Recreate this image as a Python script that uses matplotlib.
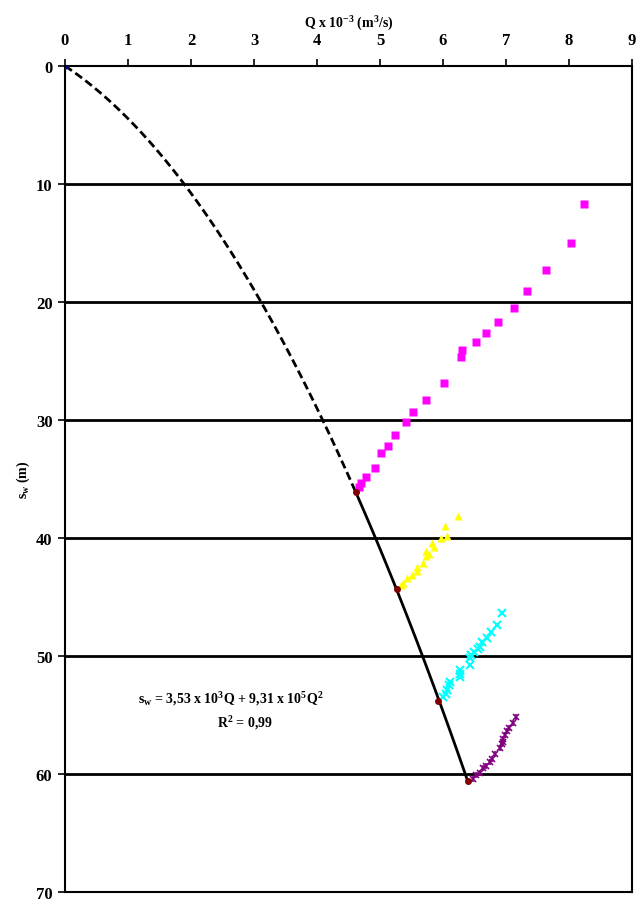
import numpy as np
import matplotlib
matplotlib.use("Agg")
import matplotlib.pyplot as plt

plt.rcParams['font.family'] = ['Liberation Serif', 'DejaVu Serif']
plt.rcParams['font.weight'] = 'bold'
plt.rcParams['mathtext.fontset'] = 'custom'
plt.rcParams['mathtext.rm'] = 'Liberation Serif:bold'
plt.rcParams['mathtext.it'] = 'Liberation Serif:bold'
plt.rcParams['mathtext.bf'] = 'Liberation Serif:bold'

# step test data, Q in 10^-3 m3/s, s in m
step1_q = [8.23, 8.03, 7.63, 7.33, 7.13, 6.88, 6.68, 6.52, 6.30, 6.29, 6.02, 5.73,
           5.52, 5.42, 5.23, 5.12, 5.02, 4.92, 4.77, 4.70, 4.67]
step1_s = [11.7, 15.0, 17.3, 19.1, 20.5, 21.7, 22.6, 23.4, 24.1, 24.7, 26.9, 28.3,
           29.3, 30.2, 31.3, 32.2, 32.8, 34.1, 34.8, 35.3, 35.7]

step2_q = [6.23, 6.03, 6.07, 5.97, 5.83, 5.86, 5.73, 5.77, 5.73, 5.69, 5.59, 5.59,
           5.51, 5.43, 5.37, 5.34]
step2_s = [38.1, 39.0, 39.8, 40.0, 40.4, 40.8, 41.1, 41.4, 41.5, 42.1, 42.5, 42.8,
           43.1, 43.4, 43.8, 44.0]

step3_q = [6.94, 6.86, 6.76, 6.70, 6.62, 6.59, 6.56, 6.49, 6.44, 6.43, 6.43, 6.27,
           6.27, 6.27, 6.11, 6.10, 6.07, 6.04, 6.00]
step3_s = [46.4, 47.4, 48.0, 48.5, 48.8, 49.2, 49.4, 49.7, 49.9, 50.2, 50.8, 51.2,
           51.5, 51.8, 52.2, 52.5, 52.9, 53.2, 53.5]

step4_q = [7.16, 7.11, 7.05, 7.01, 6.98, 6.96, 6.95, 6.93, 6.90, 6.83, 6.77, 6.75,
           6.69, 6.64, 6.58, 6.52, 6.47]
step4_s = [55.2, 55.7, 56.1, 56.4, 56.7, 57.0, 57.3, 57.5, 57.8, 58.3, 58.7, 59.0,
           59.3, 59.5, 59.9, 60.1, 60.4]

# points used for the fit
fit_q = [0.0, 4.62, 5.27, 5.92, 6.40]
fit_s = [0.0, 36.1, 44.3, 53.8, 60.6]

# fitted equation s = B*Q + C*Q^2 (Q in m3/s)
coef_b = 3.53e3
coef_c = 9.31e5

fig = plt.figure(figsize=(6.41, 9.04), dpi=100)
ax = fig.add_axes([0.1014, 0.0122, 0.8846, 0.9137])

q_dash = np.linspace(0, fit_q[1], 100)
q_solid = np.linspace(fit_q[1], fit_q[-1], 50)
ax.plot(q_dash, coef_b * q_dash * 1e-3 + coef_c * (q_dash * 1e-3) ** 2, color='black', lw=2,
        ls=(0, (3, 1.5)), zorder=3)
ax.plot(q_solid, coef_b * q_solid * 1e-3 + coef_c * (q_solid * 1e-3) ** 2, color='black', lw=2,
        zorder=3)

ax.plot(step1_q, step1_s, 's', color='#FF00FF', ms=5.5, mec='none', zorder=4)
ax.plot(step2_q, step2_s, '^', color='#FFFF00', ms=6, mec='none', zorder=4)
ax.plot(step3_q, step3_s, 'x', color='#00FFFF', ms=6, mew=1.5, zorder=4)
ax.plot(step4_q, step4_s, 'x', color='#800080', ms=5, mew=1.2, zorder=4)
ax.plot(step4_q, step4_s, '|', color='#800080', ms=5, mew=1.2, zorder=4)
ax.plot(fit_q[1:], fit_s[1:], 'o', color='#800000', ms=5, mec='none', zorder=5)
ax.plot(fit_q[0], fit_s[0], 'D', color='#000080', ms=4, mec='none', zorder=5)

ax.set_xlim(0, 9)
ax.set_ylim(70, 0)
ax.set_xticks(range(0, 10))
ax.set_yticks(range(0, 80, 10))
ax.xaxis.tick_top()
ax.xaxis.set_label_position('top')
for y in range(10, 70, 10):
    ax.axhline(y, color='black', lw=2, zorder=2)
ax.tick_params(axis='both', direction='out', length=5, width=1.2, labelsize=12)
ax.tick_params(axis='x', pad=8)
ax.tick_params(axis='y', pad=4)
for sp in ax.spines.values():
    sp.set_linewidth(1.5)

ax.set_xlabel('Q x 10$^{-3}$ (m$^{3}$/s)', fontsize=10, fontweight='bold', labelpad=4)
ax.set_ylabel('s$_{w}$ (m)', fontsize=10, fontweight='bold', labelpad=3)

ax.text(2.63, 53.6, 's$_{w}$ = 3,53 x 10$^{3}$Q + 9,31 x 10$^{5}$Q$^{2}$', fontsize=10,
        fontweight='bold', ha='center', va='center')
ax.text(2.85, 55.6, 'R$^{2}$ = 0,99', fontsize=10, fontweight='bold', ha='center', va='center')

fig.savefig('out.png', dpi=100)
